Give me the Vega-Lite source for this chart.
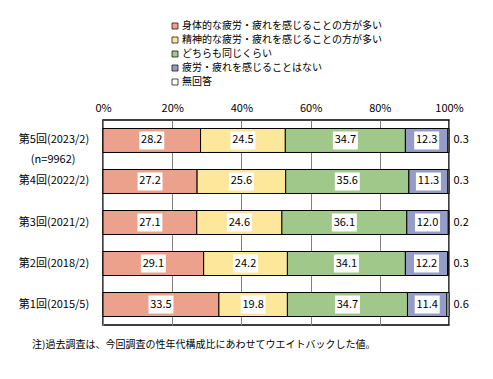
{
  "$schema": "https://vega.github.io/schema/vega-lite/v6.json",
  "width": 346,
  "height": 205,
  "autosize": "none",
  "padding": {"left": 103, "top": 120, "right": 44, "bottom": 54},
  "background": "white",
  "config": {
    "font": "Noto Sans CJK JP",
    "view": {"stroke": "black", "strokeWidth": 1.5}
  },
  "title": {
    "text": "注)過去調査は、今回調査の性年代構成比にあわせてウエイトバックした値。",
    "orient": "bottom",
    "anchor": "start",
    "frame": "group",
    "dx": -71,
    "offset": 15,
    "fontSize": 10,
    "fontWeight": "normal",
    "color": "black",
    "baseline": "top"
  },
  "data": {
    "values": [
      {"s": "第5回(2023/2)", "n": "(n=9962)", "c": "身体的な疲労・疲れを感じることの方が多い", "k": 1, "v": 28.2},
      {"s": "第5回(2023/2)", "c": "精神的な疲労・疲れを感じることの方が多い", "k": 2, "v": 24.5},
      {"s": "第5回(2023/2)", "c": "どちらも同じくらい", "k": 3, "v": 34.7},
      {"s": "第5回(2023/2)", "c": "疲労・疲れを感じることはない", "k": 4, "v": 12.3},
      {"s": "第5回(2023/2)", "c": "無回答", "k": 5, "v": 0.3},
      {"s": "第4回(2022/2)", "c": "身体的な疲労・疲れを感じることの方が多い", "k": 1, "v": 27.2},
      {"s": "第4回(2022/2)", "c": "精神的な疲労・疲れを感じることの方が多い", "k": 2, "v": 25.6},
      {"s": "第4回(2022/2)", "c": "どちらも同じくらい", "k": 3, "v": 35.6},
      {"s": "第4回(2022/2)", "c": "疲労・疲れを感じることはない", "k": 4, "v": 11.3},
      {"s": "第4回(2022/2)", "c": "無回答", "k": 5, "v": 0.3},
      {"s": "第3回(2021/2)", "c": "身体的な疲労・疲れを感じることの方が多い", "k": 1, "v": 27.1},
      {"s": "第3回(2021/2)", "c": "精神的な疲労・疲れを感じることの方が多い", "k": 2, "v": 24.6},
      {"s": "第3回(2021/2)", "c": "どちらも同じくらい", "k": 3, "v": 36.1},
      {"s": "第3回(2021/2)", "c": "疲労・疲れを感じることはない", "k": 4, "v": 12.0},
      {"s": "第3回(2021/2)", "c": "無回答", "k": 5, "v": 0.2},
      {"s": "第2回(2018/2)", "c": "身体的な疲労・疲れを感じることの方が多い", "k": 1, "v": 29.1},
      {"s": "第2回(2018/2)", "c": "精神的な疲労・疲れを感じることの方が多い", "k": 2, "v": 24.2},
      {"s": "第2回(2018/2)", "c": "どちらも同じくらい", "k": 3, "v": 34.1},
      {"s": "第2回(2018/2)", "c": "疲労・疲れを感じることはない", "k": 4, "v": 12.2},
      {"s": "第2回(2018/2)", "c": "無回答", "k": 5, "v": 0.3},
      {"s": "第1回(2015/5)", "c": "身体的な疲労・疲れを感じることの方が多い", "k": 1, "v": 33.5},
      {"s": "第1回(2015/5)", "c": "精神的な疲労・疲れを感じることの方が多い", "k": 2, "v": 19.8},
      {"s": "第1回(2015/5)", "c": "どちらも同じくらい", "k": 3, "v": 34.7},
      {"s": "第1回(2015/5)", "c": "疲労・疲れを感じることはない", "k": 4, "v": 11.4},
      {"s": "第1回(2015/5)", "c": "無回答", "k": 5, "v": 0.6}
    ]
  },
  "transform": [
    {"stack": "v", "groupby": ["s"], "sort": [{"field": "k", "order": "ascending"}], "as": ["v0", "v1"]},
    {"calculate": "(datum.v0 + datum.v1) / 2", "as": "mid"}
  ],
  "encoding": {
    "y": {
      "field": "s",
      "type": "nominal",
      "sort": ["第5回(2023/2)", "第4回(2022/2)", "第3回(2021/2)", "第2回(2018/2)", "第1回(2015/5)"],
      "scale": {"paddingInner": 0.415, "paddingOuter": 0.207},
      "axis": {
        "title": null,
        "domain": false,
        "ticks": false,
        "labelAlign": "center",
        "labelBaseline": "middle",
        "labelPadding": 49.5,
        "labelFontSize": 11,
        "labelColor": "black",
        "labelLimit": 200
      }
    }
  },
  "layer": [
    {
      "mark": {"type": "bar", "stroke": "black", "strokeWidth": 1},
      "encoding": {
        "x": {
          "field": "v0",
          "type": "quantitative",
          "scale": {"domain": [0, 100], "nice": false, "clamp": false},
          "axis": {
            "orient": "top",
            "title": null,
            "values": [0, 20, 40, 60, 80, 100],
            "labelExpr": "datum.value + '%'",
            "domain": false,
            "ticks": false,
            "grid": true,
            "gridColor": "#808080",
            "gridWidth": 1,
            "zindex": 0,
            "labelPadding": 7,
            "labelFontSize": 11,
            "labelColor": "black",
            "labelFlush": false
          }
        },
        "x2": {"field": "v1"},
        "color": {
          "field": "c",
          "type": "nominal",
          "sort": ["身体的な疲労・疲れを感じることの方が多い", "精神的な疲労・疲れを感じることの方が多い", "どちらも同じくらい", "疲労・疲れを感じることはない", "無回答"],
          "scale": {
            "domain": ["身体的な疲労・疲れを感じることの方が多い", "精神的な疲労・疲れを感じることの方が多い", "どちらも同じくらい", "疲労・疲れを感じることはない", "無回答"],
            "range": ["#EBA18B", "#FDE79A", "#A0C88A", "#959CC5", "#FFFFFF"]
          },
          "legend": {
            "title": null,
            "orient": "none",
            "legendX": 67,
            "legendY": -99,
            "symbolType": "square",
            "symbolSize": 36,
            "symbolStrokeColor": "black",
            "symbolStrokeWidth": 0.7,
            "labelFontSize": 10,
            "labelColor": "black",
            "labelLimit": 400,
            "labelOffset": 2,
            "rowPadding": 4
          }
        }
      }
    },
    {
      "transform": [{"filter": "datum.k < 5"}],
      "mark": {"type": "point", "shape": "M-1,-0.72L1,-0.72L1,0.72L-1,0.72Z", "size": 625, "filled": true, "fill": "white", "opacity": 1, "strokeWidth": 0},
      "encoding": {
        "x": {"field": "mid", "type": "quantitative"}
      }
    },
    {
      "transform": [{"filter": "datum.k < 5"}],
      "mark": {"type": "text", "fontSize": 11, "color": "black"},
      "encoding": {
        "x": {"field": "mid", "type": "quantitative"},
        "text": {"field": "v", "type": "quantitative", "format": ".1f"}
      }
    },
    {
      "transform": [{"filter": "datum.k == 5"}],
      "mark": {"type": "text", "fontSize": 11, "color": "black"},
      "encoding": {
        "x": {"datum": 103.5},
        "text": {"field": "v", "type": "quantitative", "format": ".1f"}
      }
    },
    {
      "transform": [{"filter": "isValid(datum.n)"}],
      "mark": {"type": "text", "fontSize": 11, "color": "black", "dy": 20},
      "encoding": {
        "x": {"datum": -14.4},
        "text": {"field": "n"}
      }
    }
  ]
}
